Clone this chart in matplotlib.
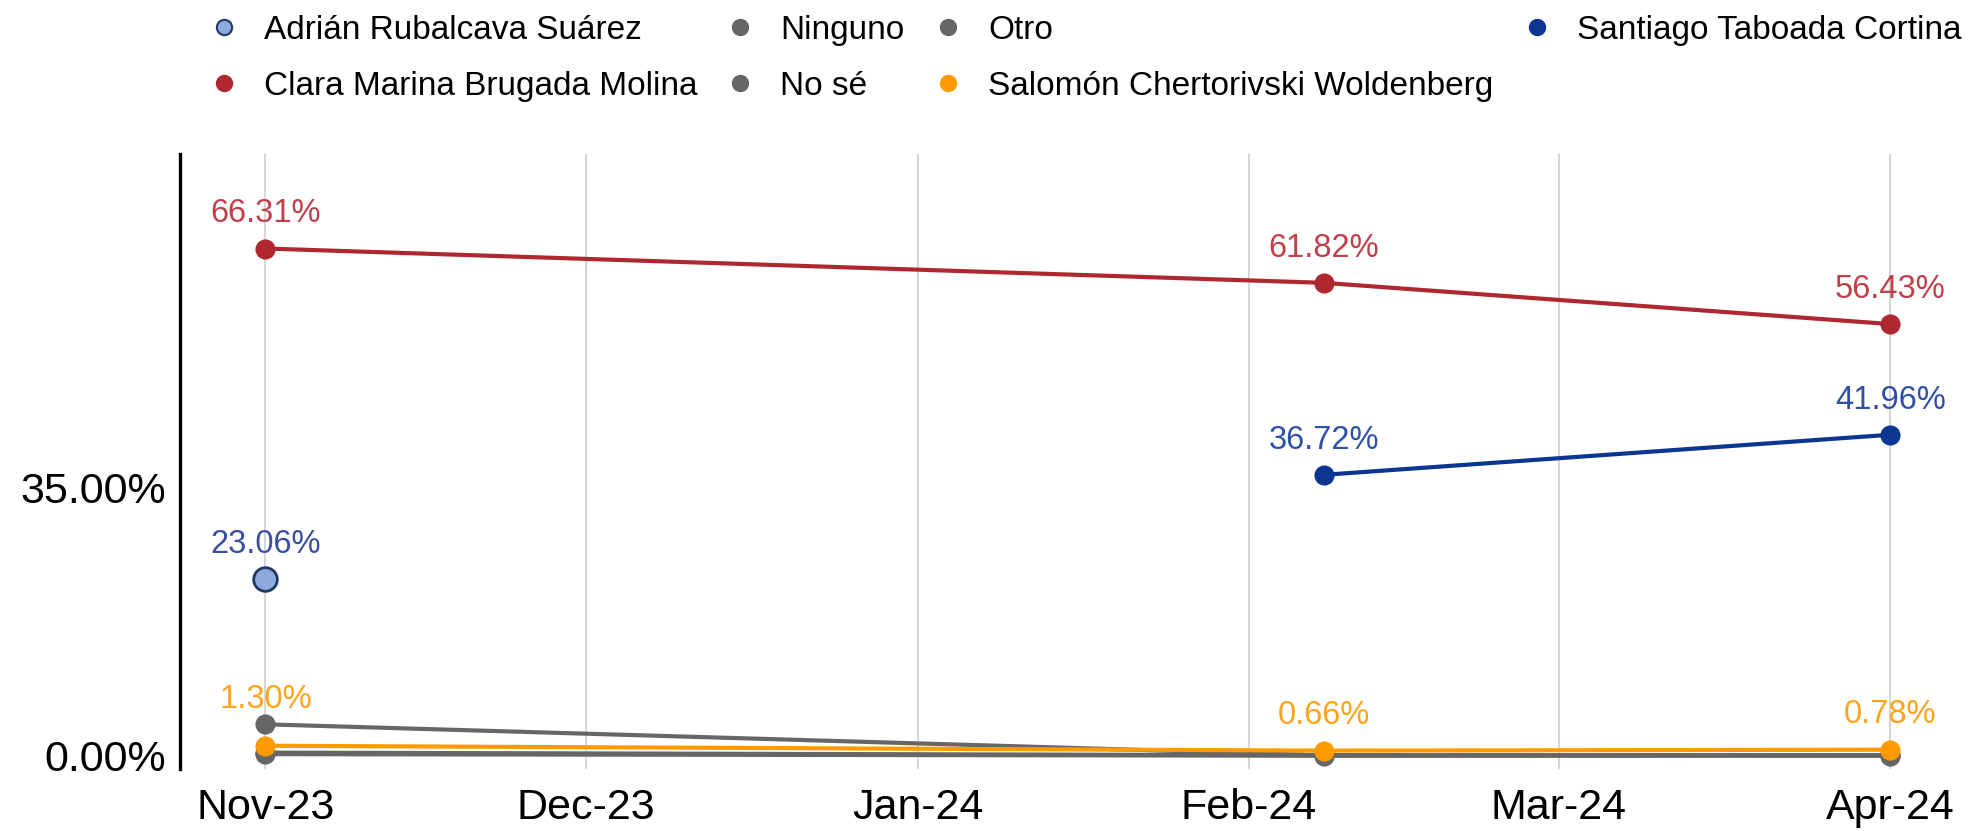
import matplotlib.pyplot as plt
import matplotlib.dates as mdates
from matplotlib.lines import Line2D
import numpy as np
import pandas as pd

# fechas de las encuestas
dates = pd.to_datetime(['2023-11-01', '2024-02-08', '2024-04-01'])

# porcentajes por opción (nan = sin dato)
ninguno = [4.1, 0.05, 0.05]
no_se = [0.4, 0.05, 0.05]
otro = [0.2, 0.0, 0.0]
salomon = [1.30, 0.66, 0.78]
adrian = [23.06, np.nan, np.nan]
clara = [66.31, 61.82, 56.43]
santiago = [np.nan, 36.72, 41.96]

y_ticks = [0, 35]

plt.rcParams['font.family'] = ['Liberation Sans', 'DejaVu Sans']

RED = '#B0282F'
NAVY = '#0B3590'
LIGHT_BLUE = '#8EA9DB'
ORANGE = '#FF9B00'
GRAY = '#666666'

fig = plt.figure(figsize=(19.77, 8.31), dpi=100)
ax = fig.add_axes([0.091, 0.075, 0.876, 0.74])

# (nombre, valores, color linea/punto, color etiqueta)
series = [
    ('Ninguno', ninguno, GRAY, None),
    ('No sé', no_se, GRAY, None),
    ('Otro', otro, GRAY, None),
    ('Salomón Chertorivski Woldenberg', salomon, ORANGE, '#FFA31A'),
    ('Clara Marina Brugada Molina', clara, RED, '#C0404A'),
    ('Santiago Taboada Cortina', santiago, NAVY, '#3050A8'),
]

# desplazamiento vertical de etiquetas (puntos) cuando se encima con otra serie
label_offset = {('Salomón Chertorivski Woldenberg', 0): 33}

for name, vals, color, lab_color in series:
    vals = np.array(vals, dtype=float)
    ok = ~np.isnan(vals)
    ax.plot(dates[ok], vals[ok], color=color, lw=3, marker='o', ms=13.5,
            zorder=3, solid_capstyle='butt')
    if lab_color:
        for i in np.where(ok)[0]:
            off = label_offset.get((name, i), 25)
            ax.annotate(f'{vals[i]:.2f}%', (dates[i], vals[i]), xytext=(0, off),
                        textcoords='offset points', ha='center', va='center',
                        fontsize=23.5, color=lab_color, zorder=5)

# Adrián: solo un punto
vals = np.array(adrian, dtype=float)
ok = ~np.isnan(vals)
ax.plot(dates[ok], vals[ok], linestyle='none', marker='o', ms=17,
        markerfacecolor=LIGHT_BLUE, markeredgecolor='#1F3864', markeredgewidth=2, zorder=4)
for i in np.where(ok)[0]:
    ax.annotate(f'{vals[i]:.2f}%', (dates[i], vals[i]), xytext=(0, 25),
                textcoords='offset points', ha='center', va='center',
                fontsize=23.5, color='#3A4FA0', zorder=5)

ax.set_xlim(pd.Timestamp('2023-10-24'), pd.Timestamp('2024-04-03'))
ax.set_ylim(-1.7, 78.7)

ax.xaxis.set_major_locator(mdates.MonthLocator())
ax.xaxis.set_major_formatter(mdates.DateFormatter('%b-%y'))
ax.set_yticks(y_ticks)
ax.set_yticklabels([f'{t:.2f}%' for t in y_ticks])

ax.tick_params(axis='x', length=0, labelsize=31, pad=14)
ax.tick_params(axis='y', length=0, labelsize=31, pad=10)

ax.grid(axis='x', color='#D0D0D0', lw=1.2)
ax.grid(axis='y', visible=False)
ax.set_axisbelow(True)

for s in ['top', 'right', 'bottom']:
    ax.spines[s].set_visible(False)
ax.spines['left'].set_linewidth(2.4)
ax.spines['left'].set_color('black')

# leyenda, orden alfabetico en 4 columnas
legend_items = [
    ('Adrián Rubalcava Suárez', LIGHT_BLUE, '#1F3864'),
    ('Clara Marina Brugada Molina', RED, RED),
    ('Ninguno', GRAY, GRAY),
    ('No sé', GRAY, GRAY),
    ('Otro', GRAY, GRAY),
    ('Salomón Chertorivski Woldenberg', ORANGE, ORANGE),
    ('Santiago Taboada Cortina', NAVY, NAVY),
]
handles = [Line2D([], [], linestyle='none', marker='o', ms=11,
                  markerfacecolor=fc, markeredgecolor=ec, markeredgewidth=1.5)
           for _, fc, ec in legend_items]
fig.legend(handles, [n for n, _, _ in legend_items], ncol=4, loc='upper left',
           bbox_to_anchor=(0.103, 0.99), frameon=False, fontsize=24,
           handlelength=0.8, handletextpad=0.8, columnspacing=0.9,
           labelspacing=0.75, borderpad=0.2, borderaxespad=0)

fig.savefig('out.png', dpi=100)
